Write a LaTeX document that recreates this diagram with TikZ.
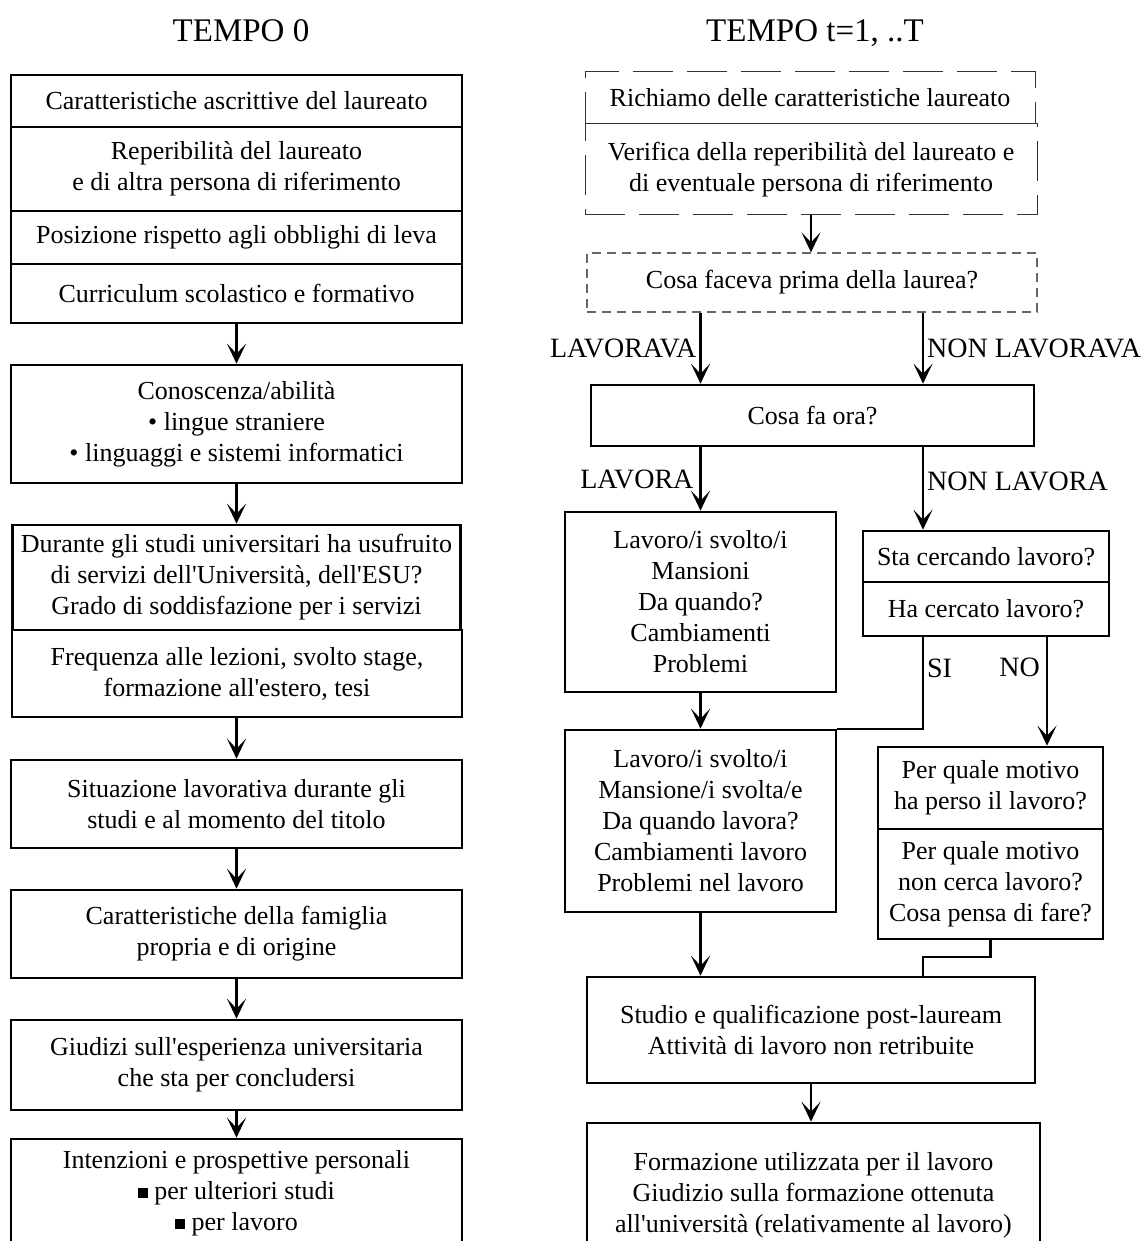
\documentclass[tikz,border=0pt]{standalone}
\usepackage{fontspec}
\setmainfont{Liberation Serif}
\usetikzlibrary{positioning, calc, arrows.meta}

\tikzset{
  box/.style={draw, line width=2.6pt, align=center, inner sep=0pt, font=\fontsize{26}{31}\selectfont},
  dbox/.style={box, line width=1pt, draw=black!80, dash pattern=on 40pt off 14pt},
  qbox/.style={box, line width=1.3pt, draw=black!60, dash pattern=on 9pt off 6pt},
  arr/.style={line width=2.2pt, -{Stealth[length=20pt, width=19pt, inset=10pt]}},
  lnk/.style={line width=2.2pt},
  lab/.style={font=\fontsize{28}{32}\selectfont, inner sep=3pt},
  ttl/.style={font=\fontsize{33}{38}\selectfont, anchor=base}
}
\newcommand{\sqb}{\rule[0.05em]{0.38em}{0.38em}}
\newcommand{\ap}{\textquotesingle}

\begin{document}
\begin{tikzpicture}[x=1pt, y=-1pt]
    \useasboundingbox (0,0) rectangle (1141,1241);
    \clip (0,0) rectangle (1141,1241);

    % Titles
    \node[ttl] (t0) at (241,42) {TEMPO 0};
    \node[ttl] (t1) at (815,42) {TEMPO t=1, ..T};

    % Tempo 0
    \node[box, minimum width=451, minimum height=52] (b1) at (236.5,101) {Caratteristiche ascrittive del laureato};
    \node[box, minimum width=451, minimum height=84] (b2) at (236.5,169) {Reperibilità del laureato\\e di altra persona di riferimento};
    \node[box, minimum width=451, minimum height=53] (b3) at (236.5,237.5) {Posizione rispetto agli obblighi di leva};
    \node[box, minimum width=451, minimum height=59] (b4) at (236.5,293.5) {Curriculum scolastico e formativo};
    \node[box, minimum width=451, minimum height=118] (b5) at (236.5,424) {Conoscenza/abilità\\\textbullet{} lingue straniere\\\textbullet{} linguaggi e sistemi informatici};
    \node[box, minimum width=448, minimum height=105] (b6) at (236.5,577.5) {Durante gli studi universitari ha usufruito\\di servizi dell\ap Università, dell\ap ESU?\\Grado di soddisfazione per i servizi};
    \node[box, minimum width=450, minimum height=87] (b7) at (237,673.5) {Frequenza alle lezioni, svolto stage,\\formazione all\ap estero, tesi};
    \node[box, minimum width=451, minimum height=88] (b8) at (236.5,804) {Situazione lavorativa durante gli\\studi e al momento del titolo};
    \node[box, minimum width=451, minimum height=88] (b9) at (236.5,934) {Caratteristiche della famiglia\\propria e di origine};
    \node[box, minimum width=451, minimum height=90] (b10) at (236.5,1065) {Giudizi sull\ap esperienza universitaria\\che sta per concludersi};
    \node[box, minimum width=451, minimum height=108] (b11) at (236.5,1193) {Intenzioni e prospettive personali\\\sqb{} per ulteriori studi\\\sqb{} per lavoro};

    \draw[arr] (b4.south) -- (b5.north);
    \draw[arr] (b5.south) -- (b6.north);
    \draw[arr] (b7.south -| b8.north) -- (b8.north);
    \draw[arr] (b8.south) -- (b9.north);
    \draw[arr] (b9.south) -- (b10.north);
    \draw[arr] (b10.south) -- (b11.north);

    % Tempo t
    \coordinate (rx) at (923,0);
    \coordinate (nx) at (1047,0);
    \node[dbox, minimum width=450, minimum height=52] (ra) at (810,98) {Richiamo delle caratteristiche laureato};
    \node[dbox, minimum width=452, minimum height=91] (rb) at (811,169.5) {Verifica della reperibilità del laureato e\\di eventuale persona di riferimento};
    \node[qbox, minimum width=450, minimum height=59] (rc) at (812,282.5) {Cosa faceva prima della laurea?};
    \node[box, minimum width=443, minimum height=61] (rd) at (812.5,415.5) {Cosa fa ora?};
    \node[box, minimum width=271, minimum height=180] (re) at (700.5,602) {Lavoro/i svolto/i\\Mansioni\\Da quando?\\Cambiamenti\\Problemi};
    \node[box, minimum width=246, minimum height=51] (rf1) at (986,556.5) {Sta cercando lavoro?};
    \node[box, minimum width=246, minimum height=54] (rf2) at (986,609) {Ha cercato lavoro?};
    \node[box, minimum width=271, minimum height=182] (rg) at (700.5,821) {Lavoro/i svolto/i\\Mansione/i svolta/e\\Da quando lavora?\\Cambiamenti lavoro\\Problemi nel lavoro};
    \node[box, minimum width=225, minimum height=82] (rh1) at (990.5,788) {Per quale motivo\\ha perso il lavoro?};
    \node[box, minimum width=225, minimum height=110] (rh2) at (990.5,884) {Per quale motivo\\non cerca lavoro?\\Cosa pensa di fare?};
    \node[box, minimum width=448, minimum height=106] (ri) at (811,1030) {Studio e qualificazione post-lauream\\Attività di lavoro non retribuite};
    \node[box, minimum width=453, minimum height=144] (rj) at (813.5,1195) {Formazione utilizzata per il lavoro\\Giudizio sulla formazione ottenuta\\all\ap università (relativamente al lavoro)};

    \draw[arr] (rb.south) -- (rb.south |- rc.north);
    \draw[arr] (rc.south -| re.north) -- node[lab, left] {LAVORAVA} (rd.north -| re.north);
    \draw[arr] (rc.south -| rx) -- node[lab, right] {NON LAVORAVA} (rd.north -| rx);
    \draw[arr] (rd.south -| re.north) -- node[lab, left, inner sep=6pt] {LAVORA} (re.north);
    \draw[arr] (rd.south -| rx) -- node[lab, right, pos=0.42] {NON LAVORA} (rf1.north -| rx);
    \draw[arr] (re.south) -- (rg.north);
    \draw[lnk] (rf2.south -| rx) |- node[lab, right, pos=0.17] {SI} (rg.north east);
    \draw[arr] (rf2.south -| nx) -- node[lab, left, pos=0.28, inner sep=6pt] {NO} (rh1.north -| nx);
    \draw[arr] (rg.south) -- (rg.south |- ri.north);
    \draw[lnk] (rh2.south) -- ++(0,17) -| (ri.north -| rx);
    \draw[arr] (ri.south) -- (ri.south |- rj.north);
\end{tikzpicture}
\end{document}
